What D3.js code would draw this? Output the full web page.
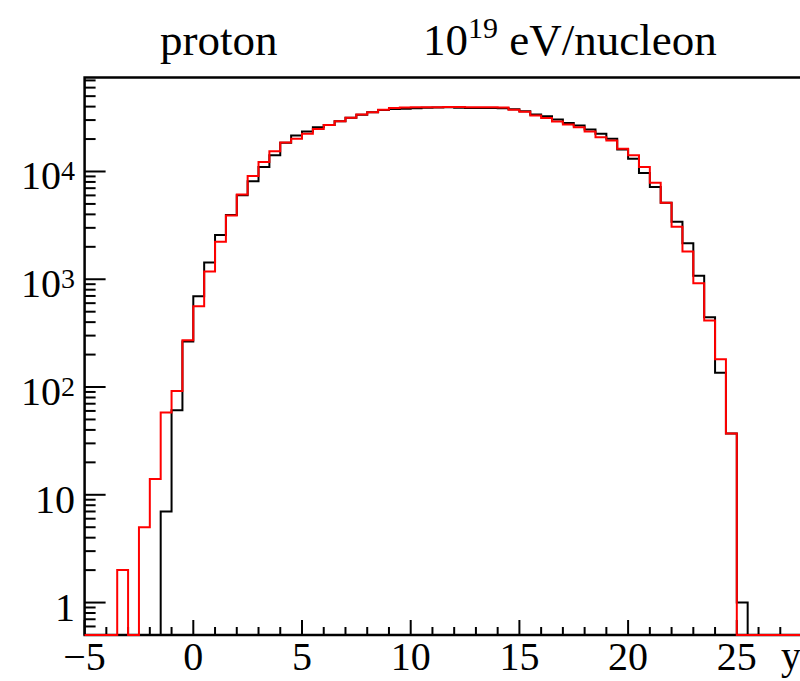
<!DOCTYPE html>
<html>
<head>
<meta charset="utf-8">
<script src="https://cdn.jsdelivr.net/npm/d3@7"></script>
<style>
  body { margin: 0; background: #fff; }
  svg { display: block; font-family: "Liberation Serif", "Times New Roman", serif; }
</style>
</head>
<body>
<div id="graph"></div>
<script>
// histogram bins, width 0.5, low edges from -5 to 29.5
const binWidth = 0.5;
const binLow = d3.range(-5, 30, binWidth);

// counts per bin (black and red histograms)
const blackCounts = [0, 0, 0, 0, 0, 0, 0, 7, 61, 265,
    694, 1430, 2575, 3950, 6030, 8120, 11010, 14120, 18450, 21590,
    23500, 25760, 27060, 29300, 31500, 33700, 35400, 37300, 38000, 38300,
    38600, 39000, 39300, 39400, 39000, 38900, 38900, 38800, 38600, 37800,
    36200, 33800, 32500, 30300, 28240, 26710, 24540, 22340, 20080, 16030,
    13120, 9680, 7190, 5120, 3420, 2155, 1077, 444, 136, 37,
    1, 0, 0, 0, 0, 0, 0, 0, 0, 0];
const redCounts = [0, 0, 0, 2, 0, 5, 14, 58, 92, 271,
    561, 1180, 2234, 3900, 6100, 9080, 12240, 15380, 18600, 20080,
    22340, 24840, 27000, 29200, 31500, 33800, 35500, 37500, 38800, 39300,
    39400, 39500, 39500, 39600, 39600, 39500, 39500, 39400, 39200, 37500,
    35800, 33000, 31400, 29100, 27290, 25760, 23500, 20830, 19400, 16250,
    14120, 11010, 7880, 5120, 3075, 1806, 920, 414, 181, 37,
    0, 0, 0, 0, 0, 0, 0, 0, 0, 0];

const xDomain = [-5, 30];
const yDomain = [0.5, 74500];
const xLabelTicks = [-5, 0, 5, 10, 15, 20, 25];
const yLabels = [[1, "1", ""], [10, "10", ""], [100, "10", "2"], [1000, "10", "3"], [10000, "10", "4"]];
const titleLeft = "proton";
const titleRight = ["10", "19", " eV/nucleon"];
const xTitle = "y";

function main() {
    const container = document.getElementById("graph");
    const svg = d3.create("svg").attr("width", 800).attr("height", 681);

    const left = 84.6, top = 77.5, bottom = 635;

    const x = d3.scaleLinear().domain(xDomain).range([left, left + 21.74 * 35]);
    const y = d3.scaleLog().domain(yDomain).range([bottom, top]);

    // frame (right side falls outside the picture)
    svg.append("rect")
        .attr("x", left).attr("y", top)
        .attr("width", x(xDomain[1]) - left).attr("height", bottom - top)
        .attr("fill", "none").attr("stroke", "#000").attr("stroke-width", 2.5);

    // y axis ticks, inside the frame
    const gy = svg.append("g");
    y.ticks().forEach(t => {
        const major = Math.abs(Math.log10(t) - Math.round(Math.log10(t))) < 1e-9;
        gy.append("line")
            .attr("x1", left).attr("x2", left + (major ? 21 : 11))
            .attr("y1", y(t)).attr("y2", y(t))
            .attr("stroke", "#000").attr("stroke-width", 2);
    });

    yLabels.forEach(([v, base, sup]) => {
        const t = gy.append("text")
            .attr("x", 75).attr("y", y(v) + 18)
            .attr("text-anchor", "end")
            .attr("font-size", 40)
            .text(base);
        if (sup) {
            t.append("tspan").attr("dy", -9).attr("font-size", 28).text(sup);
        }
    });

    // x axis ticks
    const gx = svg.append("g");
    x.ticks(35).forEach(t => {
        const major = t % 5 === 0;
        gx.append("line")
            .attr("x1", x(t)).attr("x2", x(t))
            .attr("y1", bottom).attr("y2", bottom - (major ? 15 : 8))
            .attr("stroke", "#000").attr("stroke-width", 2);
    });
    const fmt = d3.format("d");
    gx.selectAll("text.lab")
        .data(xLabelTicks)
        .join("text")
        .attr("class", "lab")
        .attr("x", d => x(d)).attr("y", 670)
        .attr("text-anchor", "middle")
        .attr("font-size", 40)
        .text(d => fmt(d));

    gx.append("text")
        .attr("x", 781).attr("y", 669)
        .attr("font-size", 40)
        .text(xTitle);

    // histograms as step lines, empty bins sit on the bottom of the frame
    const step = d3.line()
        .x(d => x(d[0]))
        .y(d => y(Math.max(d[1], yDomain[0])))
        .curve(d3.curveStepAfter);

    const toPoints = counts => {
        const pts = binLow.map((b, i) => [b, counts[i]]);
        pts.push([binLow[binLow.length - 1] + binWidth, counts[counts.length - 1]]);
        return pts;
    };

    svg.append("path")
        .attr("d", step(toPoints(blackCounts)))
        .attr("fill", "none").attr("stroke", "#000").attr("stroke-width", 2);

    svg.append("path")
        .attr("d", step(toPoints(redCounts)))
        .attr("fill", "none").attr("stroke", "#ff0000").attr("stroke-width", 2);

    // titles
    svg.append("text")
        .attr("x", 160).attr("y", 55)
        .attr("font-size", 45)
        .text(titleLeft);

    const tr = svg.append("text")
        .attr("x", 423).attr("y", 55)
        .attr("font-size", 45)
        .text(titleRight[0]);
    tr.append("tspan").attr("dy", -17).attr("font-size", 30).text(titleRight[1]);
    tr.append("tspan").attr("dy", 17).attr("font-size", 45).text(titleRight[2]);

    container.appendChild(svg.node());
}

main()
</script>
</body>
</html>
